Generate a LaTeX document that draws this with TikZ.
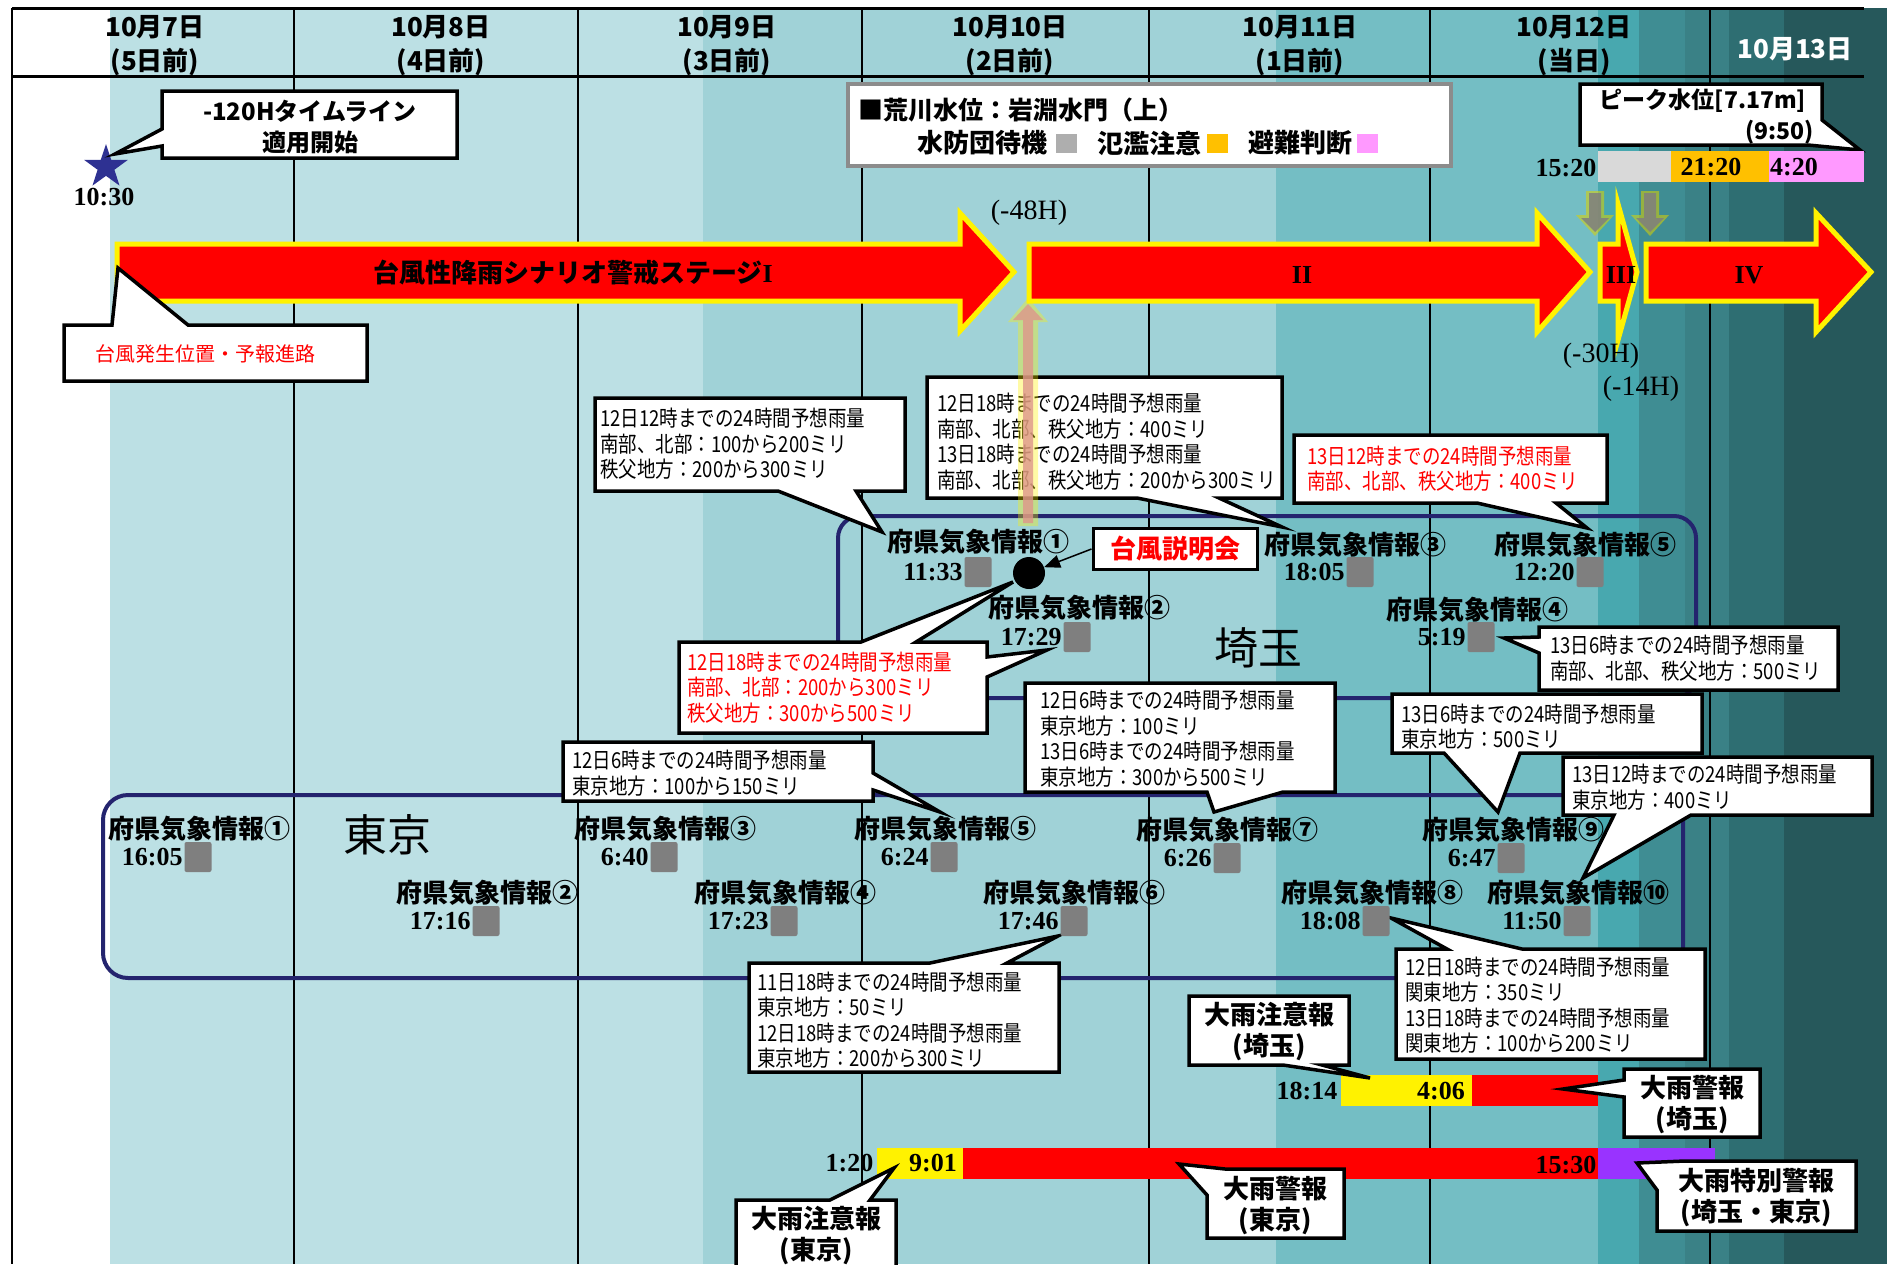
\documentclass[tikz,border=0pt]{standalone}
\usepackage{fontspec}
\setmainfont{Liberation Serif}
\newfontfamily\jp{Noto Sans CJK JP}
\newfontfamily\jpn[FakeStretch=0.84]{Noto Sans CJK JP}
\usetikzlibrary{arrows.meta,shapes.geometric}
\definecolor{bgA}{RGB}{188,224,228}
\definecolor{bgB}{RGB}{160,210,215}
\definecolor{bgC}{RGB}{116,190,196}
\definecolor{bgD}{RGB}{72,168,175}
\definecolor{bgE}{RGB}{63,141,147}
\definecolor{bgF}{RGB}{58,129,134}
\definecolor{bgG}{RGB}{46,110,114}
\definecolor{bgH}{RGB}{38,88,91}
\definecolor{navy}{RGB}{36,36,110}
\definecolor{sqgray}{RGB}{127,127,127}
\definecolor{wlgray}{RGB}{217,217,217}
\definecolor{wlorange}{RGB}{255,192,0}
\definecolor{wlpink}{RGB}{255,153,255}
\definecolor{warnpurple}{RGB}{153,51,255}
\definecolor{starblue}{RGB}{46,49,146}
\definecolor{legendgray}{RGB}{140,140,140}
\definecolor{uparrow}{RGB}{222,150,140}
\tikzset{
 co/.style={fill=white, draw=black, line width=3.5pt, line join=miter},
 fc/.style={anchor=west, inner sep=0pt, align=left, font=\jpn\fontsize{22pt}{25.5pt}\selectfont},
 fcr/.style={fc, text=red},
 lbl/.style={inner sep=0pt, font=\jp\bfseries\fontsize{26pt}{30pt}\selectfont},
 tm/.style={inner sep=1.5pt, anchor=east, font=\bfseries\fontsize{26pt}{30pt}\selectfont},
 tmc/.style={inner sep=0pt, font=\bfseries\fontsize{26pt}{30pt}\selectfont},
 sq/.style={fill=sqgray, minimum width=27pt, minimum height=30pt, inner sep=0pt, rounded corners=2pt},
 wt/.style={inner sep=0pt, align=center, font=\jp\bfseries\fontsize{26pt}{31pt}\selectfont},
 hd/.style={inner sep=0pt, font=\jp\bfseries\fontsize{26pt}{30pt}\selectfont},
 stg/.style={fill=red, draw=yellow, line width=5pt, line join=miter},
 region/.style={draw=navy, line width=4pt},
 hmark/.style={inner sep=0pt, font=\fontsize{28pt}{30pt}\selectfont},
 lgsq/.style={minimum width=21pt, minimum height=19pt, inner sep=0pt},
 bigname/.style={inner sep=0pt, font=\jp\fontsize{44pt}{48pt}\selectfont},
}
\begin{document}
\begin{tikzpicture}[x=1pt,y=-1pt]
\clip (0,0) rectangle (1887,1264);
\fill[white] (0,0) rectangle (1887,1264);
% background bands
\fill[bgA] (110,8) rectangle (703,1264);
\fill[bgB] (703,8) rectangle (1276,1264);
\fill[bgC] (1276,8) rectangle (1598,1264);
\fill[bgD] (1598,8) rectangle (1639,1264);
\fill[bgE] (1639,8) rectangle (1685,1264);
\fill[bgF] (1685,8) rectangle (1729,1264);
\fill[bgG] (1729,8) rectangle (1784,1264);
\fill[bgH] (1784,8) rectangle (1887,1264);
% grid lines
\draw[line width=2pt] (12,8) -- (12,1264);
\foreach \xx in {294,578,862,1149,1430,1710} \draw[line width=1.5pt] (\xx,8) -- (\xx,1264);
\draw[line width=3pt] (12,8) -- (1864,8);
\draw[line width=3pt] (12,76) -- (1864,76);
% header
\node[hd] (d7) at (155,27) {10月7日};
\node[hd] (d7b) at (155,62) {(5日前)};
\node[hd] (d8) at (441,27) {10月8日};
\node[hd] (d8b) at (441,62) {(4日前)};
\node[hd] (d9) at (727,27) {10月9日};
\node[hd] (d9b) at (727,62) {(3日前)};
\node[hd] (d10) at (1010,27) {10月10日};
\node[hd] (d10b) at (1010,62) {(2日前)};
\node[hd] (d11) at (1300,27) {10月11日};
\node[hd] (d11b) at (1300,62) {(1日前)};
\node[hd] (d12) at (1574,27) {10月12日};
\node[hd] (d12b) at (1574,62) {(当日)};
\node[hd, text=white] (d13) at (1795,49) {10月13日};
% regions
\draw[region, rounded corners=22pt] (838,516) rectangle (1696,698);
\draw[region, rounded corners=25pt] (103,795) rectangle (1683,978);
\node[bigname] (saitama) at (1258,648) {埼玉};
\node[bigname] (tokyo) at (387,835) {東京};
% star and -120H
\node[star, star points=5, star point ratio=2.6, fill=starblue, minimum size=46pt, inner sep=0pt] (star) at (106,167) {};
\node[tmc] (t1030) at (104,197) {10:30};
\draw[co] (162,91) -- (457,91) -- (457,158) -- (162,158) -- (162,146) -- (115,154) -- (162,129) -- cycle;
\node[wt, font=\jp\bfseries\fontsize{24pt}{31pt}\selectfont] (tl120) at (310,127) {-120Hタイムライン\\適用開始};
% stage arrows
\draw[stg] (117,244) -- (960,244) -- (960,213) -- (1014,272) -- (960,331) -- (960,301) -- (117,301) -- cycle;
\draw[stg] (1029,244) -- (1537,244) -- (1537,213) -- (1590,272) -- (1537,332) -- (1537,301) -- (1029,301) -- cycle;
\draw[stg] (1600,244) -- (1618,244) -- (1618,204) -- (1637,272) -- (1618,340) -- (1618,301) -- (1600,301) -- cycle;
\draw[stg] (1646,244) -- (1816,244) -- (1816,213) -- (1871,272) -- (1816,332) -- (1816,301) -- (1646,301) -- cycle;
\node[lbl] (st1) at (573,273) {台風性降雨シナリオ警戒ステージ{\rmfamily I}};
\node[tmc] (st2) at (1302,275) {II};
\node[tmc] (st3) at (1621,275) {III};
\node[tmc] (st4) at (1749,275) {IV};
\node[hmark] (h48) at (1029,213) {(-48H)};
\node[hmark] (h30) at (1601,356) {(-30H)};
\node[hmark] (h14) at (1641,389) {(-14H)};
% typhoon track callout
\draw[co] (64,325) -- (112,325) -- (118,268) -- (188,325) -- (367,325) -- (367,381) -- (64,381) -- cycle;
\node[inner sep=0pt, text=red, font=\jp\fontsize{20pt}{24pt}\selectfont] (track) at (205,354) {台風発生位置・予報進路};
% legend
\draw[draw=legendgray, fill=white, line width=4pt] (848,84) rectangle (1451,166);
\node[anchor=west, inner sep=0pt, font=\jp\bfseries\fontsize{25pt}{28pt}\selectfont] (lg0) at (858,110) {■荒川水位：岩淵水門（上）};
\node[anchor=west, inner sep=0pt, font=\jp\bfseries\fontsize{26pt}{28pt}\selectfont] (lg1t) at (917,143) {水防団待機};
\node[lgsq, fill=wlgray!80!black] (lg1) at (1066,143) {};
\node[anchor=west, inner sep=0pt, font=\jp\bfseries\fontsize{26pt}{28pt}\selectfont] (lg2t) at (1097,143) {氾濫注意};
\node[lgsq, fill=wlorange] (lg2) at (1217,143) {};
\node[anchor=west, inner sep=0pt, font=\jp\bfseries\fontsize{26pt}{28pt}\selectfont] (lg3t) at (1248,143) {避難判断};
\node[lgsq, fill=wlpink] (lg3) at (1367,143) {};
% water level
\draw[co] (1580,84) -- (1822,84) -- (1822,120) -- (1860,150) -- (1808,145) -- (1580,145) -- cycle;
\node[inner sep=0pt, font=\jp\bfseries\fontsize{23pt}{26pt}\selectfont] (peak) at (1703,101) {ピーク水位[7.17m]};
\node[inner sep=0pt, anchor=east, font=\jp\bfseries\fontsize{23pt}{26pt}\selectfont] (peakt) at (1814,132) {(9:50)};
\fill[wlgray] (1598,151) rectangle (1671,182);
\fill[wlorange] (1671,151) rectangle (1769,182);
\fill[wlpink] (1769,151) rectangle (1864,182);
\node[tm] (w1520) at (1598,168) {15:20};
\node[tmc] (w2120) at (1711,167) {21:20};
\node[tmc, anchor=west] (w420) at (1770,167) {4:20};
\foreach \ax in {1595,1650}{
  \fill[yellow!70!olive, opacity=.55] (\ax-9,191) -- (\ax+9,191) -- (\ax+9,215) -- (\ax+19,215) -- (\ax,236) -- (\ax-19,215) -- (\ax-9,215) -- cycle;
  \fill[sqgray, opacity=.85] (\ax-6,193) -- (\ax+6,193) -- (\ax+6,218) -- (\ax+14,218) -- (\ax,232) -- (\ax-14,218) -- (\ax-6,218) -- cycle;
}
% forecast callouts
\draw[co] (595,398) -- (905,398) -- (905,491) -- (856,491) -- (882,532) -- (778,491) -- (595,491) -- cycle;
\node[fc] (fa) at (600,444) {12日12時までの24時間予想雨量\\南部、北部：100から200ミリ\\秩父地方：200から300ミリ};
\draw[co] (927,377) -- (1282,377) -- (1282,498) -- (1219,498) -- (1282,527) -- (1137,498) -- (927,498) -- cycle;
\node[fc] (fb) at (937,441.5) {12日18時までの24時間予想雨量\\南部、北部、秩父地方：400ミリ\\13日18時までの24時間予想雨量\\南部、北部、秩父地方：200から300ミリ};
\draw[co] (1294,435) -- (1607,435) -- (1607,503) -- (1556,503) -- (1587,528) -- (1477,503) -- (1294,503) -- cycle;
\node[fcr] (fcc) at (1307,468.5) {13日12時までの24時間予想雨量\\南部、北部、秩父地方：400ミリ};
\draw[co] (1539,627) -- (1838,627) -- (1838,690) -- (1539,690) -- (1539,653) -- (1504,638) -- (1539,637) -- cycle;
\node[fc] (fd) at (1550,658) {13日6時までの24時間予想雨量\\南部、北部、秩父地方：500ミリ};
\draw[co] (679,642) -- (861,642) -- (1013,582) -- (916,642) -- (987,642) -- (987,657) -- (1047,650) -- (987,677) -- (987,733) -- (679,733) -- cycle;
\node[fcr] (fe) at (687,687.5) {12日18時までの24時間予想雨量\\南部、北部：200から300ミリ\\秩父地方：300から500ミリ};
\draw[co] (1025,683) -- (1335,683) -- (1335,792) -- (1283,792) -- (1214,812) -- (1207,792) -- (1025,792) -- cycle;
\node[fc] (ff) at (1040,738.5) {12日6時までの24時間予想雨量\\東京地方：100ミリ\\13日6時までの24時間予想雨量\\東京地方：300から500ミリ};
\draw[co] (1392,694) -- (1702,694) -- (1702,753) -- (1520,753) -- (1498,812) -- (1444,753) -- (1392,753) -- cycle;
\node[fc] (fg) at (1401,726.5) {13日6時までの24時間予想雨量\\東京地方：500ミリ};
\draw[co] (1563,757) -- (1872,757) -- (1872,815) -- (1691,815) -- (1583,878) -- (1614,815) -- (1563,815) -- cycle;
\node[fc] (fh) at (1572,787) {13日12時までの24時間予想雨量\\東京地方：400ミリ};
\draw[co] (563,742) -- (873,742) -- (873,773) -- (940,812) -- (873,790) -- (873,801) -- (563,801) -- cycle;
\node[fc] (fi) at (572,773) {12日6時までの24時間予想雨量\\東京地方：100から150ミリ};
\draw[co] (749,963) -- (930,963) -- (1058,936) -- (1007,963) -- (1059,963) -- (1059,1072) -- (749,1072) -- cycle;
\node[fc] (fj) at (757,1020) {11日18時までの24時間予想雨量\\東京地方：50ミリ\\12日18時までの24時間予想雨量\\東京地方：200から300ミリ};
\draw[co] (1396,949) -- (1447,949) -- (1391,918) -- (1522,949) -- (1705,949) -- (1705,1059) -- (1396,1059) -- cycle;
\node[fc] (fk) at (1405,1005) {12日18時までの24時間予想雨量\\関東地方：350ミリ\\13日18時までの24時間予想雨量\\関東地方：100から200ミリ};
% Saitama items
\node[lbl] (sl1) at (978,542) {府県気象情報①};
\node[sq] (ss1) at (978,572) {};
\node[tm] (st1t) at (ss1.west) {11:33};
\node[lbl] (sl2) at (1079,608) {府県気象情報②};
\node[sq] (ss2) at (1077,637) {};
\node[tm] (st2t) at (ss2.west) {17:29};
\node[lbl] (sl3) at (1355,545) {府県気象情報③};
\node[sq] (ss3) at (1360,572) {};
\node[tm] (st3t) at (ss3.west) {18:05};
\node[lbl] (sl4) at (1477,610) {府県気象情報④};
\node[sq] (ss4) at (1481,637) {};
\node[tm] (st4t) at (ss4.west) {5:19};
\node[lbl] (sl5) at (1585,545) {府県気象情報⑤};
\node[sq] (ss5) at (1590,572) {};
\node[tm] (st5t) at (ss5.west) {12:20};
% briefing
\node[circle, fill=black, minimum size=32pt, inner sep=0pt] (dot) at (1029,573) {};
\node[draw=black, fill=white, line width=3pt, minimum width=164pt, minimum height=41pt, inner sep=0pt, text=red, font=\jp\bfseries\fontsize{26pt}{28pt}\selectfont] (setsumei) at (1175,549) {台風説明会};
\draw[line width=1.5pt, -{Triangle[length=16pt,width=13pt]}] (setsumei.west) -- (dot);
% Tokyo items
\node[lbl] (tl1) at (199,829) {府県気象情報①};
\node[sq] (ts1) at (198,857) {};
\node[tm] (tt1) at (ts1.west) {16:05};
\node[lbl] (tl2) at (487,893) {府県気象情報②};
\node[sq] (ts2) at (486,921) {};
\node[tm] (tt2) at (ts2.west) {17:16};
\node[lbl] (tl3) at (665,829) {府県気象情報③};
\node[sq] (ts3) at (664,857) {};
\node[tm] (tt3) at (ts3.west) {6:40};
\node[lbl] (tl4) at (785,893) {府県気象情報④};
\node[sq] (ts4) at (784,921) {};
\node[tm] (tt4) at (ts4.west) {17:23};
\node[lbl] (tl5) at (945,829) {府県気象情報⑤};
\node[sq] (ts5) at (944,857) {};
\node[tm] (tt5) at (ts5.west) {6:24};
\node[lbl] (tl6) at (1074,893) {府県気象情報⑥};
\node[sq] (ts6) at (1074,921) {};
\node[tm] (tt6) at (ts6.west) {17:46};
\node[lbl] (tl7) at (1227,830) {府県気象情報⑦};
\node[sq] (ts7) at (1227,858) {};
\node[tm] (tt7) at (ts7.west) {6:26};
\node[lbl] (tl8) at (1372,893) {府県気象情報⑧};
\node[sq] (ts8) at (1376,921) {};
\node[tm] (tt8) at (ts8.west) {18:08};
\node[lbl] (tl9) at (1513,830) {府県気象情報⑨};
\node[sq] (ts9) at (1511,858) {};
\node[tm] (tt9) at (ts9.west) {6:47};
\node[lbl] (tl10) at (1578,893) {府県気象情報⑩};
\node[sq] (ts10) at (1577,921) {};
\node[tm] (tt10) at (ts10.west) {11:50};
% warning bars
\fill[yellow] (1341,1075) rectangle (1472,1106);
\fill[red] (1472,1075) rectangle (1598,1106);
\node[tm] (b1814) at (1339,1091) {18:14};
\node[tmc] (b406) at (1441,1091) {4:06};
\fill[yellow] (877,1148) rectangle (963,1179);
\fill[red] (963,1148) rectangle (1598,1179);
\fill[warnpurple] (1598,1148) rectangle (1715,1179);
\node[tm] (b120) at (875,1163) {1:20};
\node[tmc] (b901) at (933,1163) {9:01};
\node[tm] (b1530) at (1598,1165) {15:30};
% warning callouts
\draw[co] (1189,996) -- (1349,996) -- (1349,1065) -- (1322,1065) -- (1370,1078) -- (1283,1065) -- (1189,1065) -- cycle;
\node[wt] (w1) at (1269,1032) {大雨注意報\\(埼玉)};
\draw[co] (1624,1069) -- (1760,1069) -- (1760,1137) -- (1624,1137) -- (1624,1097) -- (1563,1089) -- (1624,1080) -- cycle;
\node[wt] (w2) at (1692,1104) {大雨警報\\(埼玉)};
\draw[co] (736,1200) -- (830,1200) -- (894,1168) -- (870,1200) -- (896,1200) -- (896,1290) -- (736,1290) -- cycle;
\node[wt] (w3) at (816,1236) {大雨注意報\\(東京)};
\draw[co] (1225,1169) -- (1344,1169) -- (1344,1238) -- (1207,1238) -- (1207,1195) -- (1179,1164) -- cycle;
\node[wt] (w4) at (1275,1205) {大雨警報\\(東京)};
\draw[co] (1685,1161) -- (1856,1161) -- (1856,1231) -- (1657,1231) -- (1657,1190) -- (1637,1163) -- cycle;
\node[wt] (w5) at (1756,1197) {大雨特別警報\\(埼玉・東京)};
% translucent upward arrow
\fill[yellow, opacity=.35] (1018,526) -- (1018,322) -- (1008,322) -- (1028,298) -- (1048,322) -- (1038,322) -- (1038,526) -- cycle;
\fill[uparrow, opacity=.8] (1023,523) -- (1023,320) -- (1013,320) -- (1028,304) -- (1043,320) -- (1033,320) -- (1033,523) -- cycle;
\end{tikzpicture}
\end{document}
